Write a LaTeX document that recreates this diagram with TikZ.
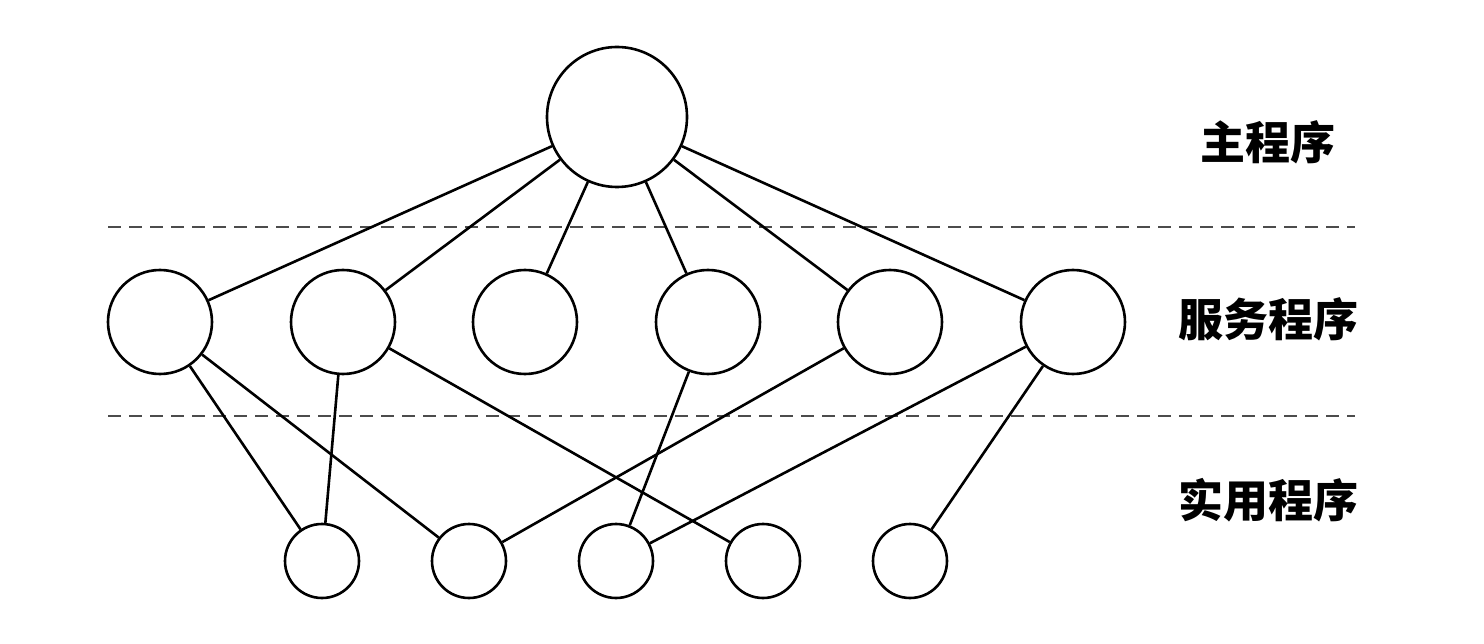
\documentclass[tikz,border=0pt]{standalone}
\usepackage{fontspec}
\newfontfamily\cjk{Noto Sans CJK SC}
\begin{document}
\begin{tikzpicture}[x=1pt,y=-1pt,
  big/.style={circle,draw,line width=2.6pt,minimum size=140pt,inner sep=0pt},
  mid/.style={circle,draw,line width=2.6pt,minimum size=104pt,inner sep=0pt},
  small/.style={circle,draw,line width=2.6pt,minimum size=74pt,inner sep=0pt},
  edge/.style={line width=2.6pt},
  sep/.style={line width=1.5pt,draw=black!70,dash pattern=on 13pt off 8pt},
  lab/.style={font=\cjk\bfseries\fontsize{45pt}{50pt}\selectfont,inner sep=0pt}]
\useasboundingbox (0,0) rectangle (1484,644);
\node[big] (t) at (617,117) {};
\foreach \i/\x in {1/160,2/343,3/525,4/708,5/890,6/1073}
  \node[mid] (m\i) at (\x,322) {};
\foreach \i/\x in {1/322,2/469,3/616,4/763,5/910}
  \node[small] (b\i) at (\x,561) {};
\coordinate (d1a) at (108,227); \coordinate (d1b) at (1355,227);
\coordinate (d2a) at (108,416); \coordinate (d2b) at (1355,416);
\draw[sep] (d1a) -- (d1b);
\draw[sep] (d2a) -- (d2b);
\foreach \i in {1,...,6} \draw[edge] (t) -- (m\i);
\draw[edge] (m1) -- (b1);
\draw[edge] (m1) -- (b2);
\draw[edge] (m2) -- (b1);
\draw[edge] (m2) -- (b4);
\draw[edge] (m4) -- (b3);
\draw[edge] (m5) -- (b2);
\draw[edge] (m6) -- (b3);
\draw[edge] (m6) -- (b5);
\node[lab] (l1) at (1268,142) {主程序};
\node[lab] (l2) at (1268,319) {服务程序};
\node[lab] (l3) at (1268,500) {实用程序};
\end{tikzpicture}
\end{document}
